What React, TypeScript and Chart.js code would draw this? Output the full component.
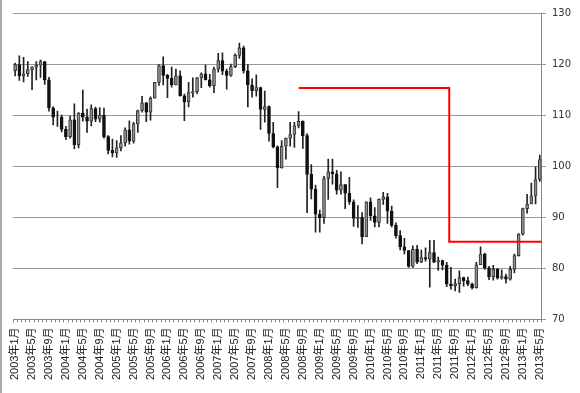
import React, { useEffect, useRef } from "react";
import { Chart, registerables } from "chart.js";

Chart.register(...registerables);

// Monthly candles, 2003年1月 – 2013年5月
const startYear = 2003;
const monthCount = 125;
const categories: string[] = [];
for (let i = 0; i < monthCount; i++) {
  const y = startYear + Math.floor(i / 12);
  const m = (i % 12) + 1;
  categories.push(`${y}年${m}月`);
}

const tickLabels = [
  "2003年1月", "2003年5月", "2003年9月", "2004年1月", "2004年5月", "2004年9月",
  "2005年1月", "2005年5月", "2005年9月", "2006年1月", "2006年5月", "2006年9月",
  "2007年1月", "2007年5月", "2007年9月", "2008年1月", "2008年5月", "2008年9月",
  "2009年1月", "2009年5月", "2009年9月", "2010年1月", "2010年5月", "2010年9月",
  "2011年1月", "2011年5月", "2011年9月", "2012年1月", "2012年5月", "2012年9月",
  "2013年1月", "2013年5月",
];

const opens = [
  118.7, 119.9, 117.7, 118.1, 118.9, 119.4, 119.8, 120.5, 116.9, 111.4, 109.6, 109.6,
  107.2, 105.8, 109.1, 104.2, 110.4, 109.6, 108.8, 111.3, 109.2, 110.0, 105.8, 103.1,
  102.6, 103.6, 104.6, 107.1, 104.9, 108.3, 110.9, 112.4, 110.6, 113.3, 116.4, 119.7,
  117.8, 117.2, 115.9, 117.7, 113.8, 112.6, 114.4, 114.6, 117.3, 118.1, 116.9, 115.7,
  119.0, 120.7, 118.6, 117.8, 119.5, 121.7, 123.2, 118.7, 115.9, 114.8, 115.4, 111.1,
  111.7, 106.4, 103.8, 99.7, 103.9, 105.5, 106.2, 107.9, 108.8, 106.0, 98.4, 95.5,
  90.6, 89.9, 97.6, 98.9, 98.5, 95.3, 96.4, 94.7, 93.0, 89.8, 90.0, 86.2,
  93.0, 90.3, 89.0, 93.5, 94.0, 91.2, 88.4, 86.4, 84.2, 83.5, 80.4, 83.7,
  81.2, 82.1, 81.8, 83.1, 81.2, 81.5, 80.6, 76.9, 76.6, 77.0, 78.2, 77.6,
  76.9, 76.2, 80.7, 82.8, 80.1, 78.3, 79.8, 78.1, 78.4, 77.9, 79.8, 82.5,
  86.7, 91.7, 92.6, 94.2, 97.4,
];

const highs = [
  120.2, 121.6, 121.3, 120.5, 119.5, 120.5, 120.8, 120.5, 117.4, 111.7, 110.8, 110.0,
  107.8, 109.8, 112.2, 110.5, 114.9, 111.2, 112.0, 111.6, 111.5, 111.4, 106.0, 105.3,
  105.0, 106.0, 107.5, 108.9, 108.6, 111.0, 113.7, 112.5, 113.6, 116.4, 119.9, 121.4,
  118.0, 119.4, 119.0, 118.7, 114.1, 116.4, 117.3, 117.4, 118.3, 119.8, 118.0, 119.4,
  122.1, 122.2, 119.0, 120.0, 122.0, 124.1, 123.5, 119.9, 117.1, 117.9, 115.5, 114.7,
  111.8, 108.6, 104.0, 105.0, 105.5, 108.6, 108.6, 110.7, 108.9, 106.4, 100.3, 96.3,
  91.4, 98.0, 101.4, 101.4, 99.2, 98.9, 96.4, 97.8, 93.4, 92.3, 90.9, 93.0,
  93.8, 91.9, 93.6, 94.9, 94.7, 92.2, 88.9, 87.4, 85.9, 83.5, 84.4, 84.5,
  83.6, 84.0, 85.5, 85.5, 82.2, 81.6, 81.2, 80.2, 77.9, 79.5, 78.3, 78.3,
  77.1, 81.2, 84.2, 83.0, 80.4, 80.6, 80.0, 79.7, 78.9, 80.4, 82.8, 86.8,
  91.8, 94.5, 96.7, 99.9, 102.2,
];

const lows = [
  117.7, 116.8, 116.5, 117.6, 115.0, 116.9, 117.4, 116.0, 110.8, 108.1, 107.8, 106.7,
  105.2, 105.5, 103.4, 103.6, 108.8, 106.6, 107.9, 108.7, 108.6, 105.5, 102.4, 101.8,
  101.7, 103.0, 103.9, 104.3, 104.5, 106.6, 110.6, 108.7, 109.0, 113.3, 115.8, 115.9,
  113.4, 115.5, 115.9, 113.7, 108.9, 111.6, 113.5, 114.2, 115.4, 116.9, 115.5, 114.4,
  118.4, 117.9, 115.1, 117.6, 119.3, 121.1, 118.2, 111.6, 113.5, 113.7, 107.2, 108.6,
  104.9, 103.6, 95.8, 99.6, 101.4, 103.9, 103.7, 107.5, 103.5, 90.9, 93.6, 87.1,
  87.1, 88.8, 93.5, 96.5, 94.5, 94.5, 91.7, 92.5, 88.2, 88.0, 84.8, 86.2,
  89.4, 88.1, 88.1, 92.5, 88.8, 88.1, 85.9, 83.6, 82.8, 80.2, 80.2, 80.9,
  81.1, 81.4, 76.3, 81.1, 79.6, 79.7, 76.4, 75.9, 75.6, 75.3, 76.5, 76.6,
  75.9, 76.1, 80.7, 79.8, 77.8, 77.7, 77.9, 77.9, 77.1, 77.7, 79.1, 82.4,
  86.5, 90.8, 92.6, 92.6, 97.0,
];

const closes = [
  119.9, 117.7, 118.1, 118.9, 119.4, 119.8, 120.5, 116.9, 111.4, 109.6, 109.6, 107.2,
  105.8, 109.1, 104.2, 110.4, 109.6, 108.8, 111.3, 109.2, 110.0, 105.8, 103.1, 102.6,
  103.6, 104.6, 107.1, 104.9, 108.3, 110.9, 112.4, 110.6, 113.3, 116.4, 119.7, 117.8,
  117.2, 115.9, 117.7, 113.8, 112.6, 114.4, 114.6, 117.3, 118.1, 116.9, 115.7, 119.0,
  120.7, 118.6, 117.8, 119.5, 121.7, 123.2, 118.7, 115.9, 114.8, 115.4, 111.1, 111.7,
  106.4, 103.8, 99.7, 103.9, 105.5, 106.2, 107.9, 108.8, 106.0, 98.4, 95.5, 90.6,
  89.9, 97.6, 98.9, 98.5, 95.3, 96.4, 94.7, 93.0, 89.8, 90.0, 86.2, 93.0,
  90.3, 89.0, 93.5, 94.0, 91.2, 88.4, 86.4, 84.2, 83.5, 80.4, 83.7, 81.2,
  82.1, 81.8, 83.1, 81.2, 81.5, 80.6, 76.9, 76.6, 77.0, 78.2, 77.6, 76.9,
  76.2, 80.7, 82.8, 80.1, 78.3, 79.8, 78.1, 78.4, 77.9, 79.8, 82.5, 86.7,
  91.7, 92.6, 94.2, 97.4, 101.3,
];

// Red reference line (x in month index units, y in price)
const levelX = [67, 102.6, 102.6, 124.5];
const levelY = [115.3, 115.3, 85.2, 85.2];

const yTicks = [70, 80, 90, 100, 110, 120, 130];

const NUM_FONT = '"DejaVu Sans", sans-serif';
const LABEL_FONT = '"Liberation Sans", "Noto Sans CJK JP", sans-serif';

export default function App() {
  const ref = useRef<HTMLCanvasElement | null>(null);

  useEffect(() => {
    if (!ref.current) return;
    const up = opens.map((o, i) => closes[i] >= o);
    const chart = new Chart(ref.current, {
      type: "bar",
      data: {
        labels: categories,
        datasets: [
          {
            type: "line",
            label: "level",
            data: levelX.map((x, i) => ({ x, y: levelY[i] })),
            xAxisID: "x2",
            yAxisID: "y",
            borderColor: "#ff0000",
            borderWidth: 2,
            pointRadius: 0,
            fill: false,
            tension: 0,
            order: 0,
          } as any,
          {
            label: "body",
            data: opens.map((o, i) => [o, closes[i]]),
            backgroundColor: up.map((u) => (u ? "#8f8f8f" : "#111111")),
            borderColor: up.map((u) => (u ? "#333333" : "#111111")),
            borderWidth: 1,
            borderSkipped: false,
            barThickness: 3,
            grouped: false,
            xAxisID: "x",
            order: 1,
          } as any,
          {
            label: "wick",
            data: lows.map((l, i) => [l, highs[i]]),
            backgroundColor: "#222222",
            borderWidth: 0,
            barThickness: 1,
            grouped: false,
            xAxisID: "x",
            order: 2,
          } as any,
        ],
      },
      options: {
        responsive: true,
        maintainAspectRatio: false,
        animation: false,
        layout: { padding: { left: 11, top: 13, right: 3, bottom: 8 } },
        plugins: { legend: { display: false }, tooltip: { enabled: false } },
        scales: {
          x: {
            type: "category",
            offset: true,
            grid: {
              drawOnChartArea: false,
              drawTicks: true,
              tickLength: 3,
              color: "#888888",
            },
            border: { color: "#888888" },
            ticks: {
              autoSkip: false,
              maxRotation: 90,
              minRotation: 90,
              padding: 5,
              color: "#222222",
              font: { size: 11, family: LABEL_FONT },
              callback: (_v: any, index: number) =>
                index % 4 === 0 ? tickLabels[index / 4] : "",
            },
          },
          x2: {
            type: "linear",
            display: false,
            offset: false,
            grid: { offset: false },
            min: -0.5,
            max: 124.5,
          },
          y: {
            position: "right",
            min: 70,
            max: 130,
            afterBuildTicks: (axis: any) => {
              axis.ticks = yTicks.map((v) => ({ value: v }));
            },
            grid: { color: "#999999", tickLength: 4 },
            border: { color: "#888888" },
            ticks: {
              padding: 6,
              color: "#333333",
              font: { size: 10, family: NUM_FONT },
            },
          },
        },
      } as any,
    });
    return () => chart.destroy();
  }, []);

  return (
    <div
      style={{
        position: "fixed",
        left: 0,
        top: 0,
        width: 580,
        height: 393,
        background: "#ffffff",
        borderLeft: "2px solid #aaaaaa",
        boxSizing: "border-box",
      }}
    >
      <canvas ref={ref} />
    </div>
  );
}
